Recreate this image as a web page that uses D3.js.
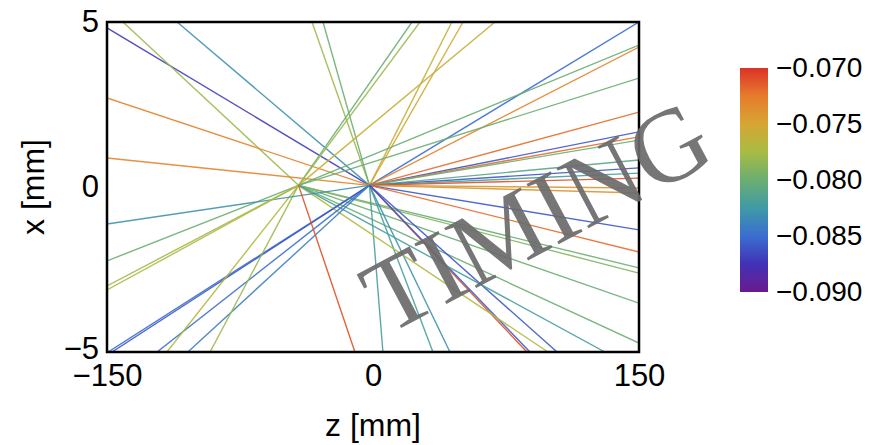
<!DOCTYPE html>
<html><head><meta charset="utf-8">
<script src="https://cdn.jsdelivr.net/npm/d3@7"></script>
<style>
body{margin:0;background:#fff;}
svg{display:block;font-family:"Liberation Sans",Arial,Helvetica,sans-serif;}
</style>
</head><body>
<svg id="chart" width="888" height="445"></svg>
<script>
// ---- data ----
const zTicks = [-150, 0, 150];
const xTicks = [-5, 0, 5];
const colorTicks = [-0.070, -0.075, -0.080, -0.085, -0.090];
const colorStopValues = [-0.090, -0.0875, -0.085, -0.0825, -0.080, -0.0775, -0.075, -0.0725, -0.070];
const colorStopHex = ["#6b1a8e", "#4232b6", "#3a6ed0", "#409aa6", "#6aae72", "#a8bc44", "#d6a634", "#e67c2c", "#dc3226"];
// focal points (z [mm], x [mm])
const focusZ = [-2, -42];
const focusX = [0.05, 0.05];
// each ray: focal point index, frame point it reaches (z, x), colour value
const rayFocus = [0,1,0,0,0,0,0, 1,1,0,0,1, 0,0,1,1,0,1,0,0,0,0,0,0,0,0,0,0,0,0,1,1,1,1, 0,0,0,0,0,1,0,1, 0,0,0,1,1,0,1,1,1];
const rayEndZ  = [-150,-141,-110.5,-150,-150,-34.4,-28.2, 22,26.5,44.5,50.8,68.8, 150,-149.4,150,-150,150,150,150,150,150,150,150,150,150,150,150,150,150,150,150,150,150,150, 5.6,33.8,43.4,86.8,88.5,98.7,103.8,130.8, -147.2,-121.8,-104.4,-116.2,-91.9,-150,-150,-150,-10.2];
const rayEndX  = [4.82,5,5,2.70,0.88,5,5, 5,5,5,5,5, 5,-5,4.30,-2.24,4.24,3.30,2.27,1.67,1.52,1.42,0.82,0.58,0.42,0.27,-0.03,-0.18,-1.30,-1.97,-2.45,-2.61,-3.52,-4.73, -5,-5,-5,-5,-5,-5,-5,-5, -5,-5,-5,-5,-5,-1.12,-3.0,-3.12,-5];
const rayValue = [-0.087,-0.078,-0.083,-0.073,-0.073,-0.078,-0.080, -0.080,-0.078,-0.076,-0.075,-0.076, -0.085,-0.085,-0.080,-0.080,-0.073,-0.080,-0.072,-0.086,-0.072,-0.080,-0.081,-0.086,-0.082,-0.071,-0.074,-0.074,-0.086,-0.072,-0.080,-0.079,-0.080,-0.080, -0.082,-0.082,-0.083,-0.071,-0.086,-0.077,-0.086,-0.082, -0.086,-0.085,-0.084,-0.077,-0.078,-0.083,-0.078,-0.077,-0.071];

// ---- layout ----
const svg = d3.select("#chart");
const plot = {left: 107, right: 639, top: 22, bottom: 352};
const zScale = d3.scaleLinear().domain([-150, 150]).range([plot.left, plot.right]);
const xScale = d3.scaleLinear().domain([-5, 5]).range([plot.bottom, plot.top]);
const colorScale = d3.scaleLinear().domain(colorStopValues).range(colorStopHex).clamp(true);

svg.append("rect").attr("width", 888).attr("height", 445).attr("fill", "#fff");

svg.append("clipPath").attr("id", "clip").append("rect")
  .attr("x", plot.left).attr("y", plot.top)
  .attr("width", plot.right - plot.left).attr("height", plot.bottom - plot.top);

const rays = rayValue.map((v, i) => ({
  v,
  pts: [[focusZ[rayFocus[i]], focusX[rayFocus[i]]], [rayEndZ[i], rayEndX[i]]]
}));
const line = d3.line().x(d => zScale(d[0])).y(d => xScale(d[1]));

svg.append("g").attr("clip-path", "url(#clip)")
  .selectAll("path").data(rays).join("path")
  .attr("d", d => line(d.pts))
  .attr("fill", "none")
  .attr("stroke", d => colorScale(d.v))
  .attr("stroke-width", 1.4)
  .attr("stroke-opacity", 0.9);

// frame
svg.append("rect")
  .attr("x", plot.left).attr("y", plot.top)
  .attr("width", plot.right - plot.left).attr("height", plot.bottom - plot.top)
  .attr("fill", "none").attr("stroke", "#000").attr("stroke-width", 2.5);

// axes
const fmt = d3.format("d");
const xAxisG = svg.append("g").attr("transform", `translate(0,${plot.bottom})`)
  .call(d3.axisBottom(zScale).tickValues(zTicks).tickFormat(fmt).tickSize(0).tickPadding(12));
xAxisG.select(".domain").remove();
xAxisG.selectAll("text").attr("font-size", 31).attr("fill", "#000")
  .attr("font-family", "Liberation Sans, Arial, sans-serif");

const yAxisG = svg.append("g").attr("transform", `translate(${plot.left},0)`)
  .call(d3.axisLeft(xScale).tickValues(xTicks).tickFormat(fmt).tickSize(0).tickPadding(8));
yAxisG.select(".domain").remove();
yAxisG.selectAll("text").attr("font-size", 31).attr("fill", "#000")
  .attr("font-family", "Liberation Sans, Arial, sans-serif")
  .attr("dy", d => d === -5 ? "0.2em" : "0.32em");

svg.append("text").attr("x", (plot.left + plot.right) / 2).attr("y", 436)
  .attr("text-anchor", "middle").attr("font-size", 32).attr("fill", "#000").text("z [mm]");
svg.append("text").attr("transform", `translate(44,${(plot.top + plot.bottom) / 2}) rotate(-90)`)
  .attr("text-anchor", "middle").attr("font-size", 32).attr("fill", "#000").text("x [mm]");

// colour bar
const cb = {x: 740, w: 28, top: 68, bottom: 292};
const cScale = d3.scaleLinear().domain([-0.090, -0.070]).range([cb.bottom, cb.top]);
const grad = svg.append("defs").append("linearGradient").attr("id", "cbgrad")
  .attr("x1", 0).attr("y1", 1).attr("x2", 0).attr("y2", 0);
grad.selectAll("stop").data(colorStopValues).join("stop")
  .attr("offset", d => (d + 0.090) / 0.020)
  .attr("stop-color", d => colorScale(d));
svg.append("rect").attr("x", cb.x).attr("y", cb.top).attr("width", cb.w)
  .attr("height", cb.bottom - cb.top).attr("fill", "url(#cbgrad)");
const cAxisG = svg.append("g").attr("transform", `translate(${cb.x + cb.w},0)`)
  .call(d3.axisRight(cScale).tickValues(colorTicks).tickFormat(d3.format(".3f")).tickSize(0).tickPadding(8));
cAxisG.select(".domain").remove();
cAxisG.selectAll("text").attr("font-size", 28).attr("fill", "#000")
  .attr("font-family", "Liberation Sans, Arial, sans-serif");

// watermark
svg.append("text")
  .attr("transform", "translate(536,216) rotate(-28)")
  .attr("text-anchor", "middle").attr("dominant-baseline", "central")
  .attr("font-family", "Liberation Serif, Times New Roman, serif")
  .attr("font-size", 104).attr("fill", "#6a6a6a").attr("fill-opacity", 0.92)
  .text("TIMING");
</script>
</body></html>
